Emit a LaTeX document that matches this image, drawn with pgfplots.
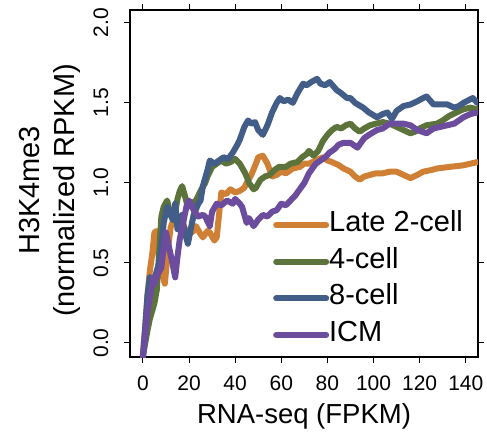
\documentclass[border=0pt]{standalone}
\usepackage{pgfplots}
\pgfplotsset{compat=1.18}
\usepackage{fontspec}
\setmainfont{Liberation Sans}
\definecolor{corange}{RGB}{208,128,52}
\definecolor{cgreen}{RGB}{92,116,60}
\definecolor{cblue}{RGB}{66,94,136}
\definecolor{cpurple}{RGB}{108,76,156}
\begin{document}
\begin{tikzpicture}
\path[use as bounding box] (-130pt,-74pt) rectangle (357pt,357pt);
\begin{axis}[
  at={(0,0)}, anchor=south west,
  scale only axis, width=348pt, height=347pt,
  xmin=-5.6, xmax=145.3, ymin=-0.0875, ymax=2.08,
  xtick={0,20,...,140}, ytick={0,0.5,1,1.5,2},
  tick align=outside, major tick length=6pt,
  every tick/.style={black, line width=1pt},
  axis line style={line width=1.3pt},
  /pgf/number format/assume math mode=true,
  tick label style={font=\fontsize{21}{25}\selectfont},
  xticklabel style={anchor=center, yshift=-20pt},
  yticklabel style={anchor=center, xshift=-23pt, rotate=90, /pgf/number format/.cd, fixed, fixed zerofill, precision=1},
  xlabel={RNA-seq (FPKM)},
  xlabel style={font=\fontsize{27.5}{32}\selectfont, at={(axis description cs:0.5,-0.172)}, anchor=center},
  ylabel={H3K4me3\\(normalized RPKM)},
  ylabel style={font=\fontsize{29}{35}\selectfont, align=center, at={(axis description cs:-0.231,0.48)}, anchor=center},
  legend style={draw=none, fill=none, at={(axis cs:56.4,0.829)}, anchor=north west, inner sep=0pt,
    font=\fontsize{29}{35}\selectfont, row sep=15.7pt,
    nodes={inner sep=0pt, text height=21pt, text depth=0pt}},
  legend cell align=left,
  legend image code/.code={\draw[line width=5pt, line cap=round, #1] (2.5pt,-4pt) -- (46.5pt,-4pt); \path (0pt,-4pt) -- (50pt,-4pt);},
  every axis plot/.append style={line width=6pt, line join=round, line cap=round},
]
\addplot[corange] coordinates {
(0,-0.08) (1,0.1) (2,0.3) (3,0.45) (4,0.55) (5,0.69) (6,0.7) (7,0.52) (8,0.45) (9.5,0.37) (11,0.6) (12,0.72) (14,0.8) (16,0.78) (18,0.72) (20,0.68) (22,0.7) (23,0.73) (25,0.68) (26,0.66) (28,0.7) (29,0.69) (31,0.64) (32,0.66) (33,0.8) (34,0.94) (36,0.93) (38,0.96) (40,0.94) (42,0.95) (44,0.97) (45,1.0) (47,1.05) (49,1.12) (50,1.16) (52,1.17) (54,1.12) (55,1.08) (56,1.04) (58,1.05) (60,1.07) (62,1.06) (65,1.09) (68,1.1) (70,1.12) (72,1.12) (75,1.14) (78,1.16) (80,1.14) (82,1.13) (85,1.11) (87,1.09) (90,1.07) (92,1.04) (94,1.02) (96,1.04) (98.5,1.05) (101,1.06) (104,1.06) (107,1.07) (110,1.07) (113,1.05) (116,1.03) (119,1.05) (121.5,1.07) (125,1.08) (127.5,1.09) (133,1.1) (139,1.11) (145,1.13)
};
\addlegendentry{Late 2-cell}
\addplot[cgreen] coordinates {
(0,-0.08) (1,0.0) (2,0.08) (3,0.15) (4,0.2) (5,0.25) (6,0.33) (7,0.55) (8,0.79) (9,0.85) (10.5,0.89) (11.5,0.83) (13,0.77) (14,0.82) (15,0.9) (16,0.95) (17,0.98) (18,0.93) (19.5,0.85) (21,0.87) (23,0.89) (25,0.95) (27,1.0) (28,1.04) (30,1.1) (32,1.12) (34,1.14) (36,1.12) (38,1.13) (40,1.15) (42,1.12) (44,1.07) (45,1.04) (46,1.0) (48,0.96) (49,0.97) (51,1.02) (53,1.04) (55,1.05) (57,1.08) (59,1.1) (62,1.1) (64,1.12) (67,1.13) (69,1.16) (71,1.18) (72,1.2) (74,1.17) (76,1.2) (78,1.26) (80,1.3) (82,1.33) (84,1.35) (86,1.34) (88,1.36) (90,1.37) (92,1.34) (94,1.32) (96,1.34) (98.5,1.36) (101,1.37) (104,1.38) (107,1.37) (110,1.35) (113,1.33) (116,1.31) (118,1.32) (120,1.34) (123,1.36) (127.5,1.37) (130,1.39) (133,1.42) (136,1.44) (139,1.46) (142,1.47) (145,1.46)
};
\addlegendentry{4-cell}
\addplot[cblue] coordinates {
(0,-0.08) (1,0.1) (2,0.3) (3,0.41) (4,0.38) (5,0.4) (6,0.45) (7,0.5) (8,0.6) (9,0.75) (10.5,0.85) (12,0.8) (13,0.77) (14,0.87) (15,0.71) (16,0.75) (17,0.8) (18,0.7) (19.5,0.62) (21,0.73) (22,0.8) (24,0.87) (25,0.89) (26,0.98) (28,1.08) (29,1.14) (31,1.12) (33,1.14) (35,1.16) (37,1.15) (39,1.19) (41,1.24) (42,1.27) (44,1.35) (45.6,1.39) (47,1.37) (48.6,1.38) (50,1.33) (52,1.3) (54,1.36) (56,1.44) (58,1.5) (59.4,1.53) (61,1.51) (63,1.52) (65,1.5) (67,1.56) (69.5,1.62) (71,1.61) (73,1.63) (75.5,1.65) (77,1.62) (79,1.61) (81,1.63) (84,1.58) (86,1.56) (88.5,1.53) (90,1.53) (92,1.5) (95.5,1.47) (98,1.44) (101.5,1.41) (104,1.43) (106,1.44) (108,1.4) (110,1.45) (113,1.48) (116,1.49) (119,1.51) (121.5,1.53) (123,1.54) (126,1.49) (129,1.49) (132,1.49) (135,1.47) (137,1.48) (139,1.5) (143,1.53) (145,1.5)
};
\addlegendentry{8-cell}
\addplot[cpurple] coordinates {
(0,-0.09) (1,0.05) (2,0.2) (3,0.28) (4.5,0.41) (5,0.37) (6,0.42) (8,0.47) (9,0.6) (10,0.69) (11,0.62) (12.5,0.52) (14,0.41) (15,0.54) (16,0.65) (18,0.79) (19,0.86) (20,0.89) (22,0.83) (24,0.79) (26,0.8) (27,0.79) (29,0.73) (30,0.82) (32,0.87) (34,0.86) (36.5,0.89) (39,0.87) (40,0.9) (42,0.87) (43,0.85) (45,0.75) (46,0.78) (48,0.73) (50,0.77) (52,0.8) (54,0.79) (56,0.82) (58,0.83) (60,0.87) (62,0.86) (64,0.89) (66,0.92) (68,0.96) (70,1.0) (72,1.06) (74,1.1) (75,1.12) (77,1.14) (79,1.16) (81,1.19) (83,1.21) (85,1.24) (87,1.25) (90,1.25) (93,1.22) (96,1.28) (98,1.3) (101.5,1.33) (104,1.34) (107,1.37) (110,1.37) (113,1.37) (116,1.36) (119,1.33) (123,1.31) (126,1.34) (129,1.35) (132,1.36) (135,1.37) (137,1.39) (139,1.41) (142,1.43) (145,1.44)
};
\addlegendentry{ICM}
\end{axis}
\end{tikzpicture}
\end{document}
